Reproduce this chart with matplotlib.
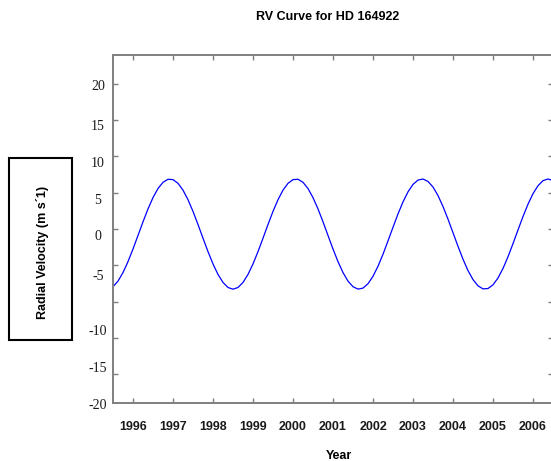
import matplotlib
matplotlib.use("Agg")
import matplotlib.pyplot as plt
from matplotlib.patches import Rectangle

# RV model curve (year, m/s)
years = [1995.5, 1995.625, 1995.75, 1995.875, 1996.0, 1996.125, 1996.25, 1996.375,
         1996.5, 1996.625, 1996.75, 1996.875, 1997.0, 1997.125, 1997.25, 1997.375,
         1997.5, 1997.625, 1997.75, 1997.875, 1998.0, 1998.125, 1998.25, 1998.375,
         1998.5, 1998.625, 1998.75, 1998.875, 1999.0, 1999.125, 1999.25, 1999.375,
         1999.5, 1999.625, 1999.75, 1999.875, 2000.0, 2000.125, 2000.25, 2000.375,
         2000.5, 2000.625, 2000.75, 2000.875, 2001.0, 2001.125, 2001.25, 2001.375,
         2001.5, 2001.625, 2001.75, 2001.875, 2002.0, 2002.125, 2002.25, 2002.375,
         2002.5, 2002.625, 2002.75, 2002.875, 2003.0, 2003.125, 2003.25, 2003.375,
         2003.5, 2003.625, 2003.75, 2003.875, 2004.0, 2004.125, 2004.25, 2004.375,
         2004.5, 2004.625, 2004.75, 2004.875, 2005.0, 2005.125, 2005.25, 2005.375,
         2005.5, 2005.625, 2005.75, 2005.875, 2006.0, 2006.125, 2006.25, 2006.375,
         2006.5]
rv = [-7.96, -7.19, -6.01, -4.50, -2.76, -0.89, 0.99, 2.77,
      4.33, 5.58, 6.44, 6.86, 6.81, 6.30, 5.36, 4.04,
      2.43, 0.62, -1.27, -3.12, -4.82, -6.27, -7.37, -8.07,
      -8.30, -8.07, -7.37, -6.27, -4.82, -3.12, -1.27, 0.62,
      2.43, 4.04, 5.36, 6.30, 6.81, 6.86, 6.44, 5.58,
      4.33, 2.77, 0.99, -0.89, -2.76, -4.50, -6.01, -7.19,
      -7.96, -8.29, -8.15, -7.55, -6.52, -5.14, -3.48, -1.64,
      0.24, 2.08, 3.74, 5.12, 6.15, 6.75, 6.89, 6.56,
      5.79, 4.61, 3.10, 1.36, -0.51, -2.39, -4.17, -5.73,
      -6.98, -7.84, -8.26, -8.21, -7.70, -6.76, -5.44, -3.83,
      -2.02, -0.13, 1.72, 3.42, 4.87, 5.97, 6.67, 6.90,
      6.67]

year_ticks = [1996, 1997, 1998, 1999, 2000, 2001, 2002, 2003, 2004, 2005, 2006]
rv_ticks = [20, 15, 10, 5, 0, -5, -10, -15, -20]
# the y labels in the original sit a bit off their ticks
rv_label_pos = [19.6, 14.1, 9.1, 3.9, -1.1, -6.6, -14.2, -19.3, -24.4]

grey = "#7f7f7f"

fig = plt.figure(figsize=(5.51, 4.61), dpi=100)
ax = fig.add_axes([113 / 551, 1 - 403 / 461, 440 / 551, 348 / 461])

ax.plot(years, rv, color="#0000ff", lw=0.9)
ax.set_xlim(1995.5, 2006.5)
ax.set_ylim(-24, 24)

for s in ax.spines.values():
    s.set_color(grey)
    s.set_linewidth(1.4)

ax.set_xticks(year_ticks)
ax.set_xticklabels([str(y) for y in year_ticks], fontsize=9, fontweight="bold",
                   family="Liberation Sans", color="#1a1a1a")
ax.set_yticks(rv_ticks)
ax.set_yticklabels([])
ax.tick_params(axis="both", direction="in", length=3.5, width=1, color=grey,
               top=True, right=True)
ax.tick_params(axis="x", pad=13)

for v, p in zip(rv_ticks, rv_label_pos):
    ax.text(-0.034, p, str(v), transform=ax.get_yaxis_transform(),
            ha="center", va="center", fontsize=10, family="Liberation Serif",
            color="#1a1a1a", clip_on=False)

fig.text(327.5 / 551, 1 - 17 / 461, "RV Curve for HD 164922", ha="center",
         va="center", fontsize=9, fontweight="bold", family="Liberation Sans")
fig.text(338.5 / 551, 1 - 456 / 461, "Year", ha="center", va="center",
         fontsize=9, fontweight="bold", family="Liberation Sans")

fig.patches.append(Rectangle((9 / 551, 1 - 340 / 461), 63 / 551, 182 / 461,
                             transform=fig.transFigure, fill=False,
                             edgecolor="black", lw=1.5))
fig.text(43 / 551, 1 - 252 / 461, "Radial Velocity (m s\u00b41)", rotation=90,
         ha="center", va="center", fontsize=9, fontweight="bold",
         family="Liberation Sans")

fig.savefig("out.png", dpi=100)
